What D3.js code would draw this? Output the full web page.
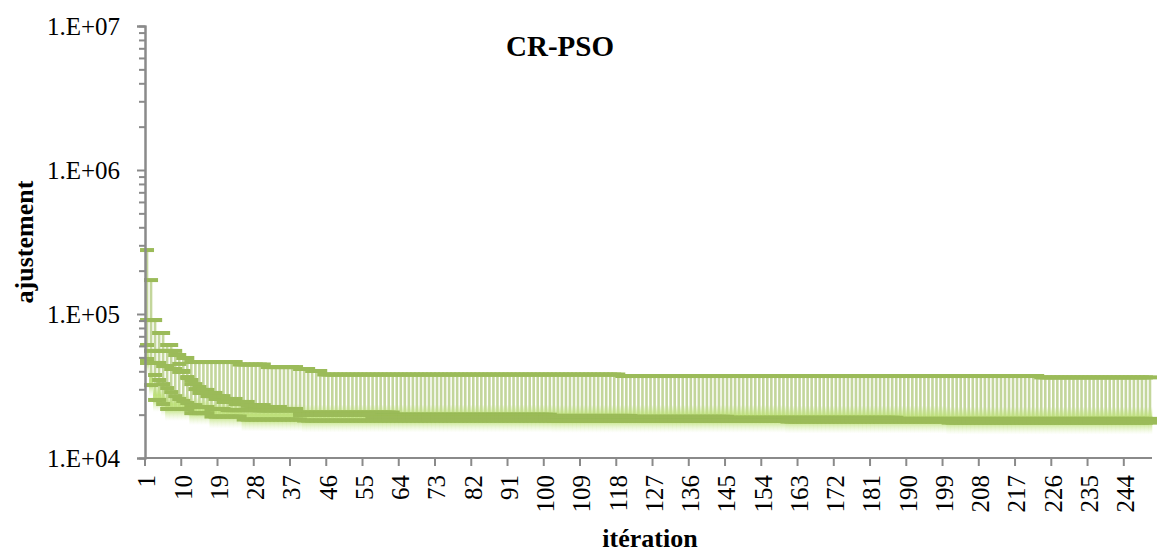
<!DOCTYPE html>
<html>
<head>
<meta charset="utf-8">
<script src="https://cdn.jsdelivr.net/npm/d3@7"></script>
<style>
  body { margin: 0; background: #fff; }
  svg text { font-family: "Liberation Serif", "Times New Roman", serif; fill: #000; }
</style>
</head>
<body>
<svg id="chart" width="1161" height="554"></svg>
<script>
// CR-PSO : ajustement par itération (échelle log)
const N_ITER = 250;
const iterations = d3.range(1, N_ITER + 1);
const xTickLabels = d3.range(1, N_ITER + 1, 9);
const yTickValues = [1e4, 1e5, 1e6, 1e7];
const yTickLabels = ["1.E+04", "1.E+05", "1.E+06", "1.E+07"];

// points de changement [itération, ajustement] : la valeur reste jusqu'au point suivant
const serieA = [[1, 278000], [2, 172000], [3, 90800], [4, 73800], [6, 60900], [8, 51900], [10, 49500],
  [12, 46400], [24, 44600], [31, 42800], [39, 41500], [42, 40200], [45, 38000], [119, 37100], [223, 36300]];
const serieB = [[1, 90800], [4, 55400], [9, 45000], [10, 40200], [11, 35900], [12, 32600], [13, 30100],
  [14, 28300], [16, 26900], [18, 25700], [20, 24500], [23, 23700], [26, 23000], [29, 22200], [33, 21700],
  [39, 20700], [63, 20000], [102, 19600], [122, 19300], [146, 19000], [188, 18700]];
const serieC = [[1, 60900], [2, 55400], [3, 45700], [5, 43500], [7, 41500], [9, 39600], [11, 36500],
  [12, 34800], [13, 32600], [14, 31100], [15, 29700], [17, 28300], [19, 26900], [21, 25700], [24, 24500],
  [27, 23300], [31, 22600], [35, 21900], [39, 20500], [57, 19600], [102, 19300], [146, 19000], [188, 18500]];
const serieD = [[1, 48700], [2, 45700], [3, 37700], [4, 34800], [5, 32600], [6, 30600], [7, 28700],
  [8, 26900], [9, 25700], [10, 24900], [11, 24100], [12, 23300], [14, 22600], [17, 21900], [21, 21500],
  [29, 21400], [39, 19900], [57, 19000], [102, 18700], [146, 18500], [188, 18200]];
const serieE = [[1, 45700], [2, 32100], [3, 25300], [5, 23700], [6, 21900], [12, 20500], [17, 19400],
  [25, 18500], [40, 18200], [102, 18100], [160, 17900], [200, 17600]];

const MARKER_COLOR = "#9bbb59";
const HILO_COLOR = "#c3d69b";
const AXIS_COLOR = "#8a8a8a";

// valeur tenue jusqu'au prochain point de changement
function expandSteps(points) {
  const out = [];
  let k = 0;
  iterations.forEach(i => {
    while (k + 1 < points.length && points[k + 1][0] <= i) k++;
    out.push(points[k][1]);
  });
  return out;
}

const series = [serieA, serieB, serieC, serieD, serieE].map(expandSteps);

const svg = d3.select("#chart");
const mLeft = 145, mRight = 1152, mTop = 26, mBottom = 458;

const x = d3.scaleBand().domain(iterations).range([mLeft, mRight]).paddingInner(0).paddingOuter(0);
const cx = i => x(i) + x.bandwidth() / 2;
const y = d3.scaleLog().domain([1e4, 1e7]).range([mBottom, mTop]);

// gradient pour la lueur en bas des lignes haut-bas
const defs = svg.append("defs");
const glow = defs.append("linearGradient").attr("id", "glow").attr("x1", 0).attr("y1", 0).attr("x2", 0).attr("y2", 1);
glow.append("stop").attr("offset", "0%").attr("stop-color", "#c4e486").attr("stop-opacity", 0);
glow.append("stop").attr("offset", "40%").attr("stop-color", "#bde079").attr("stop-opacity", 1);
glow.append("stop").attr("offset", "62%").attr("stop-color", "#c6e68a").attr("stop-opacity", 0.95);
glow.append("stop").attr("offset", "100%").attr("stop-color", "#e6f3cc").attr("stop-opacity", 0);

const hilo = iterations.map((it, k) => ({
  it,
  hi: d3.max(series, s => s[k]),
  lo: d3.min(series, s => s[k])
}));

// lignes haut-bas
svg.append("g").selectAll("line")
  .data(hilo).enter().append("line")
  .attr("x1", d => cx(d.it)).attr("x2", d => cx(d.it))
  .attr("y1", d => y(d.hi)).attr("y2", d => y(d.lo))
  .attr("stroke", HILO_COLOR).attr("stroke-width", 2.6);

svg.append("g").selectAll("rect")
  .data(hilo).enter().append("rect")
  .attr("x", d => x(d.it)).attr("width", x.bandwidth() + 0.3)
  .attr("y", d => y(d.lo) - 16).attr("height", 28)
  .attr("fill", "url(#glow)");

// marqueurs (tirets)
series.forEach(s => {
  svg.append("g").selectAll("rect")
    .data(iterations).enter().append("rect")
    .attr("x", d => cx(d) - 7).attr("width", 14)
    .attr("y", (d, k) => y(s[k]) - 2).attr("height", 4)
    .attr("fill", MARKER_COLOR);
});

// axe Y (log) : graduations principales + secondaires
const minorTicks = [];
[1e4, 1e5, 1e6].forEach(dec => d3.range(2, 10).forEach(m => minorTicks.push(dec * m)));

const yMinor = svg.append("g").attr("transform", `translate(${mLeft},0)`)
  .call(d3.axisLeft(y).tickValues(minorTicks).tickSize(6).tickFormat(""));
const yAxis = svg.append("g").attr("transform", `translate(${mLeft},0)`)
  .call(d3.axisLeft(y).tickValues(yTickValues).tickSize(8).tickPadding(17)
    .tickFormat((d, i) => yTickLabels[i]));
[yMinor, yAxis].forEach(g => {
  g.selectAll("line").attr("stroke", AXIS_COLOR).attr("stroke-width", 2);
  g.select(".domain").attr("stroke", AXIS_COLOR).attr("stroke-width", 2);
});
yAxis.selectAll("text").style("font-size", "25px");

// axe X : étiquettes centrées sur les catégories, graduations aux limites
const xAxis = svg.append("g").attr("transform", `translate(0,${mBottom})`)
  .call(d3.axisBottom(x).tickValues(xTickLabels).tickSize(0).tickPadding(0));
xAxis.select(".domain").attr("stroke", AXIS_COLOR).attr("stroke-width", 2)
  .attr("d", `M${mLeft},0H${mRight}`);
xAxis.selectAll("text")
  .style("font-size", "25px")
  .attr("text-anchor", "end")
  .attr("transform", "rotate(-90)")
  .attr("x", -17).attr("y", 0).attr("dy", "0.33em");

xAxis.selectAll("line.bound")
  .data(xTickLabels).enter().append("line")
  .attr("class", "bound")
  .attr("x1", d => x(d)).attr("x2", d => x(d))
  .attr("y1", 0).attr("y2", 8)
  .attr("stroke", AXIS_COLOR).attr("stroke-width", 2);

// titres
svg.append("text").attr("x", 560).attr("y", 56).attr("text-anchor", "middle")
  .style("font-size", "29px").style("font-weight", "bold").text("CR-PSO");
svg.append("text").attr("x", 650).attr("y", 547).attr("text-anchor", "middle")
  .style("font-size", "26px").style("font-weight", "bold").text("itération");
svg.append("text").attr("transform", "translate(33,242) rotate(-90)").attr("text-anchor", "middle")
  .style("font-size", "26px").style("font-weight", "bold").text("ajustement");
</script>
</body>
</html>
